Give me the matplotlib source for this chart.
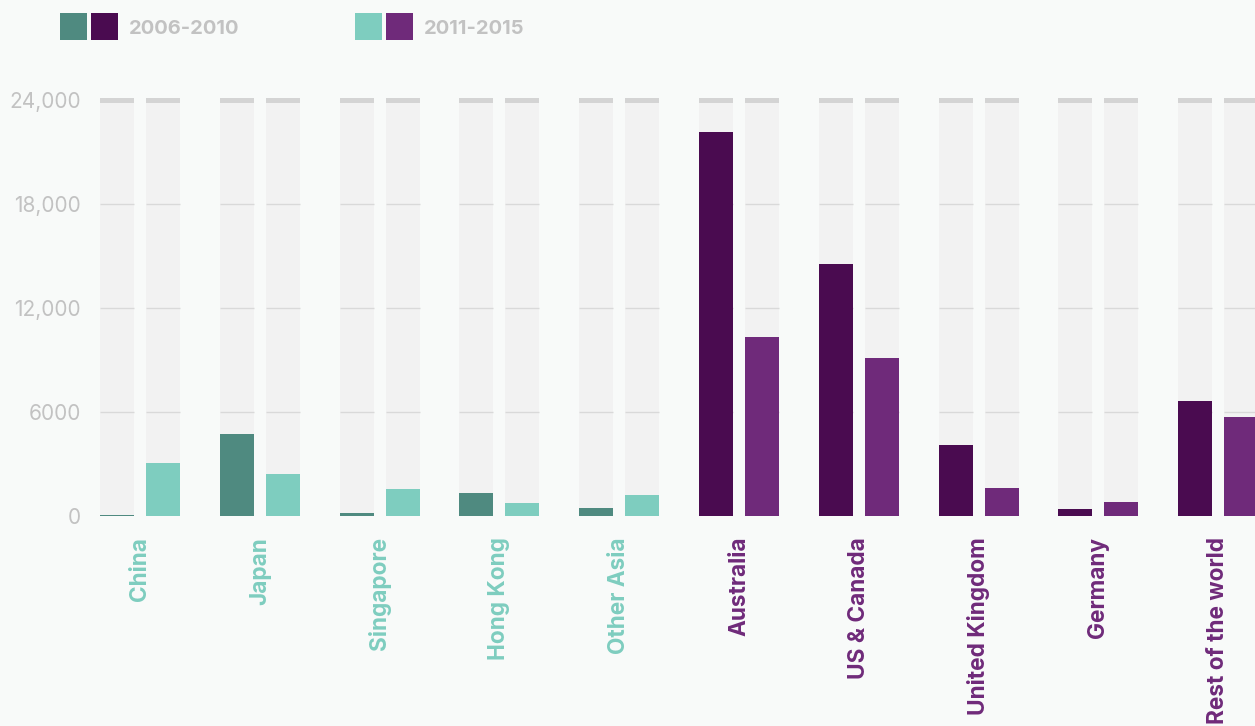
#!/usr/bin/env python3

import numpy as np
import matplotlib
matplotlib.use("Agg")
import matplotlib.pyplot as plt
from matplotlib.patches import Rectangle

# data
regions = ["China", "Japan", "Singapore", "Hong Kong", "Other Asia",
           "Australia", "US & Canada", "United Kingdom", "Germany", "Rest of the world"]
asia = [True, True, True, True, True, False, False, False, False, False]
y2006 = [70, 4730, 170, 1330, 460, 22140, 14520, 4080, 390, 6620]
y2011 = [3050, 2420, 1560, 750, 1210, 10310, 9120, 1620, 790, 5700]
yticks = [0, 6000, 12000, 18000, 24000]
ytick_labels = ["0", "6000", "12,000", "18,000", "24,000"]
periods = ["2006-2010", "2011-2015"]

teal_dark, teal_light = "#4f8a80", "#7ecdbf"
purp_dark, purp_light = "#4a0b50", "#6f2a7a"
bg = "#f8faf9"
track = "#f2f2f2"
cap = "#d4d4d4"
gridc = "#d9d9d9"
label_grey = "#c2c2c2"

plt.rcParams["font.family"] = ["Inter", "DejaVu Sans"]

W, H = 1255, 726
fig = plt.figure(figsize=(W / 100, H / 100), dpi=100, facecolor=bg)

# axes placed so that 0 sits at y=516px and 24000 at about y=100px
y0_px, px_per_unit = 516, 104 / 6000
ytop = 24100
ax_top_px = y0_px - ytop * px_per_unit
ax = fig.add_axes([0, (H - y0_px) / H, 1, (y0_px - ax_top_px) / H])
ax.set_facecolor(bg)
ax.set_ylim(0, ytop)
grp_px = 119.8
c0 = 140
ax.set_xlim(-c0 / grp_px, (W - c0) / grp_px)
ax.axis("off")

x = np.arange(len(regions))
off = 23 / grp_px
bw = 34 / grp_px

for xs in (x - off, x + off):
    ax.bar(xs, ytop, width=bw, color=track, zorder=1)
    ax.bar(xs, ytop - 23810, bottom=23810, width=bw, color=cap, zorder=3)
    for t in yticks[1:-1]:
        ax.hlines([t] * len(xs), xs - bw / 2, xs + bw / 2, color=gridc, lw=1, zorder=2)

c_a = [teal_dark if a else purp_dark for a in asia]
c_b = [teal_light if a else purp_light for a in asia]
ax.bar(x - off, y2006, width=bw, color=c_a, zorder=4)
ax.bar(x + off, y2011, width=bw, color=c_b, zorder=4)

# y tick labels
for t, lab in zip(yticks, ytick_labels):
    ax.text(81 / W, t, lab, transform=ax.get_yaxis_transform(), ha="right", va="center_baseline",
            fontsize=15, color=label_grey)

# category labels
for i, name in enumerate(regions):
    fig.text((c0 + i * grp_px) / W, 1 - 537 / H, name, rotation=90, ha="center", va="top",
             fontsize=16.3, fontweight="bold", color=teal_light if asia[i] else purp_light)

# legend
def sq(xp, col):
    fig.add_artist(Rectangle((xp / W, 1 - 40 / H), 27 / W, 27 / H, transform=fig.transFigure,
                             color=col, lw=0))

sq(60, teal_dark)
sq(91, purp_dark)
fig.text(129 / W, 1 - 27 / H, periods[0], ha="left", va="center_baseline", fontsize=14.5,
         fontweight="bold", color=label_grey)
sq(355, teal_light)
sq(386, purp_light)
fig.text(424 / W, 1 - 27 / H, periods[1], ha="left", va="center_baseline", fontsize=14.5,
         fontweight="bold", color=label_grey)

fig.savefig("out.png", dpi=100, facecolor=bg)
plt.close(fig)
